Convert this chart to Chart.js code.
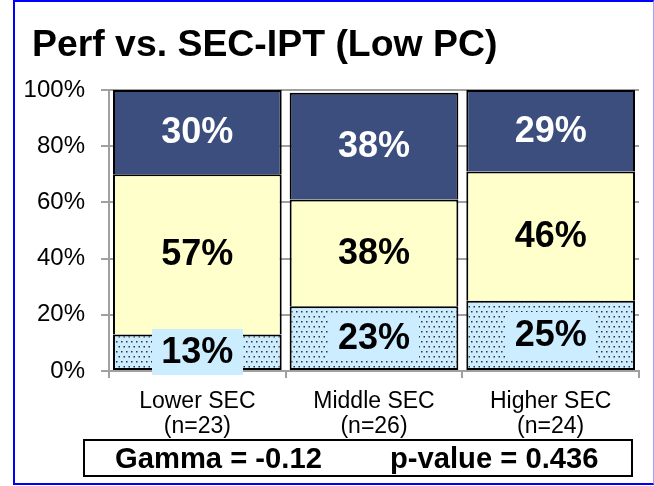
<!DOCTYPE html>
<html>
<head>
<meta charset="utf-8">
<script src="https://cdn.jsdelivr.net/npm/chart.js@4.4.1/dist/chart.umd.min.js"></script>
<style>
  html, body { margin: 0; padding: 0; background: #fff; }
  #wrap { position: relative; width: 654px; height: 486px; font-family: "Liberation Sans", Arial, sans-serif; }
  #chart { position: absolute; left: 0; top: 0; }
  #frame { position: absolute; left: 13px; top: 0; width: 638px; height: 481px;
           border: 2px solid #0000ff; border-right: 1px solid #a0a0ff; pointer-events: none; }
  #title { position: absolute; left: 32px; top: 25px; font-size: 37.4px; font-weight: bold; line-height: 37px; white-space: nowrap; }
  #stats { position: absolute; left: 83px; top: 439px; width: 546px; height: 34px; border: 2px solid #000; }
  #stats span { position: absolute; top: 2px; font-size: 29.2px; font-weight: bold; line-height: 30px; white-space: nowrap; }
</style>
</head>
<body>
<div id="wrap">
  <canvas id="chart" width="654" height="486"></canvas>
  <div id="frame"></div>
  <div id="title">Perf vs. SEC-IPT (Low PC)</div>
  <div id="stats"><span id="gamma" style="left:30px"></span><span id="pval" style="left:305px"></span></div>
</div>
<script>
// SEC groups and their sample sizes
const groups = ['Lower SEC', 'Middle SEC', 'Higher SEC']
const sampleSizes = [23, 26, 24]

// share of students per performance band, bottom to top (%)
const perfLow = [13, 23, 25]
const perfMid = [57, 38, 46]
const perfHigh = [30, 38, 29]

const yTicks = [0, 20, 40, 60, 80, 100]
const gamma = '-0.12'
const pValue = '0.436'

document.getElementById('gamma').textContent = 'Gamma = ' + gamma
document.getElementById('pval').textContent = 'p-value = ' + pValue

const FONT = '"Liberation Sans", Arial, sans-serif'
const GRID = '#a0a0a0'

// dotted light-blue fill for the bottom band
function dotFill(ctx){
  const t = document.createElement('canvas')
  t.width = 5; t.height = 10
  const g = t.getContext('2d')
  g.fillStyle = '#ccecff'; g.fillRect(0, 0, 5, 10)
  g.fillStyle = '#333'
  g.fillRect(1, 1, 1.5, 1.5)
  g.fillRect(3.5, 6, 1.5, 1.5)
  return ctx.createPattern(t, 'repeat')
}

// value labels in the middle of each segment
const segLabels = {
  id: 'segLabels',
  afterDatasetsDraw(chart){
    const ctx = chart.ctx
    ctx.save()
    ctx.font = 'bold 36px ' + FONT
    ctx.textAlign = 'center'
    ctx.textBaseline = 'middle'
    chart.data.datasets.forEach((ds, i) => {
      const st = chart.options.plugins.segLabels.styles[i]
      chart.getDatasetMeta(i).data.forEach((bar, j) => {
        const txt = ds.data[j] + '%'
        const cy = (bar.y + bar.base) / 2
        if(st.box){
          const w = ctx.measureText(txt).width + 19
          ctx.fillStyle = st.box
          ctx.fillRect(Math.round(bar.x - w / 2), Math.round(cy - 23), Math.round(w), 46)
        }
        ctx.fillStyle = st.color
        ctx.fillText(txt, bar.x, cy + 1)
      })
    })
    ctx.restore()
  }
}

const cv = document.getElementById('chart')
const edge = {top: 2, left: 2, right: 2, bottom: 0}

new Chart(cv, {
  type: 'bar',
  data: {
    labels: groups.map((g, i) => [g, `(n=${sampleSizes[i]})`]),
    datasets: [
      { label: 'low', data: perfLow, backgroundColor: dotFill(cv.getContext('2d')), borderColor: '#000', borderWidth: 2, borderSkipped: false },
      { label: 'mid', data: perfMid, backgroundColor: '#ffffcc', borderColor: '#000', borderWidth: edge, borderSkipped: false },
      { label: 'high', data: perfHigh, backgroundColor: '#3b4e7e', borderColor: '#000', borderWidth: edge, borderSkipped: false }
    ]
  },
  options: {
    responsive: false,
    animation: false,
    devicePixelRatio: 1,
    layout: { padding: { top: 90, right: 15, left: 0, bottom: 0 } },
    datasets: { bar: { barPercentage: 0.955, categoryPercentage: 1 } },
    plugins: {
      legend: { display: false },
      tooltip: { enabled: false },
      segLabels: { styles: [
        { color: '#000', box: '#ccecff' },
        { color: '#000' },
        { color: '#fff' }
      ] }
    },
    scales: {
      x: {
        stacked: true,
        afterFit(s){ s.height = 115 },
        grid: { offset: true, drawOnChartArea: false, color: GRID, lineWidth: 2, tickLength: 7 },
        border: { color: GRID, width: 2 },
        ticks: { color: '#000', padding: 11, font: { family: FONT, size: 23, lineHeight: 1.1 } }
      },
      y: {
        stacked: true,
        min: 0, max: 100,
        afterFit(s){ s.width = 109 },
        afterBuildTicks(s){ s.ticks = yTicks.map(v => ({ value: v })) },
        grid: { color: GRID, lineWidth: 2, tickLength: 8 },
        border: { color: GRID, width: 2 },
        ticks: { color: '#000', padding: 16, font: { family: FONT, size: 24 }, callback: v => v + '%' }
      }
    }
  },
  plugins: [segLabels]
})
</script>
</body>
</html>
